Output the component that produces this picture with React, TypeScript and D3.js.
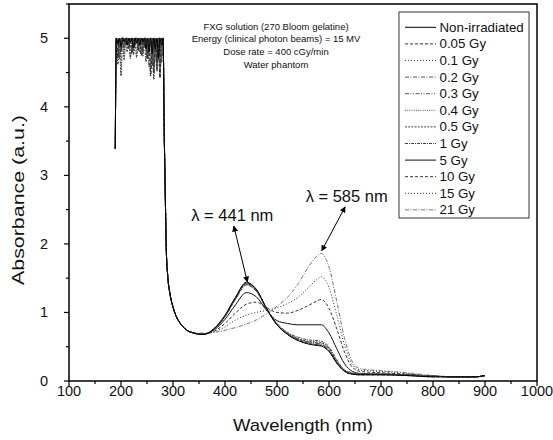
import React from 'react';
import * as d3 from 'd3';

const W = 553;
const H = 440;
const margin = { top: 4, right: 16, bottom: 59, left: 69 };
const FONT = 'Liberation Sans, Arial, sans-serif';

const seriesNames = ['Non-irradiated', '0.05 Gy', '0.1 Gy', '0.2 Gy', '0.3 Gy', '0.4 Gy', '0.5 Gy', '1 Gy', '5 Gy', '10 Gy', '15 Gy', '21 Gy'];
const seriesDash = ['', '3,2', '1,2', '4,1.5,1,1.5', '4,1.5,1,1.5,1,1.5', '1,1.2', '2,1.2', '3,1,1,1', '', '3,2', '1,2', '4,1.5,1,1.5'];
const seriesColor = ['#000', '#333', '#444', '#555', '#555', '#555', '#444', '#444', '#111', '#333', '#333', '#777'];

// UV part, shared by every spectrum (saturated detector)
const riseNm = [189];
const riseAbs = [3.39];
const satNm = [191, 194, 197, 200, 203, 206, 209, 212, 215, 218, 221, 224, 227, 230, 233, 236, 239, 242, 245, 248, 251, 254, 257, 260, 263, 266, 269, 272, 275, 278, 281];
const satA = [5.0, 4.72, 5.0, 4.80, 5.0, 5.0, 4.90, 5.0, 4.85, 5.0, 4.78, 5.0, 4.90, 5.0, 4.82, 5.0, 4.75, 5.0, 4.88, 5.0, 4.70, 5.0, 4.45, 5.0, 4.50, 5.0, 4.60, 5.0, 4.42, 5.0, 5.0];
const satB = [5.0, 4.62, 5.0, 4.45, 5.0, 4.68, 5.0, 4.80, 5.0, 4.70, 5.0, 4.76, 5.0, 4.72, 5.0, 4.80, 5.0, 4.74, 5.0, 4.66, 5.0, 4.58, 4.60, 5.0, 4.40, 5.0, 4.55, 5.0, 4.45, 5.0, 5.0];
const satC = [5.0, 4.92, 5.0, 4.88, 5.0, 4.95, 5.0, 4.90, 5.0, 4.94, 5.0, 4.86, 5.0, 4.93, 5.0, 4.90, 5.0, 4.95, 5.0, 4.85, 5.0, 4.80, 5.0, 4.78, 5.0, 4.84, 5.0, 4.70, 5.0, 4.90, 5.0];
const satD = [5.0, 5.0, 4.70, 5.0, 5.0, 4.85, 5.0, 5.0, 4.90, 5.0, 5.0, 4.82, 5.0, 5.0, 4.88, 5.0, 5.0, 4.80, 5.0, 5.0, 4.76, 5.0, 5.0, 4.60, 5.0, 5.0, 4.52, 5.0, 5.0, 4.65, 5.0];
const satPatterns = [satA, satB, satC, satD];
const satPick = [2, 0, 1, 3, 0, 1, 2, 3, 2, 0, 1, 3];
const dropNm = [283, 285, 287, 290, 294, 300, 307, 315, 325, 340];
const dropAbs = [3.7, 2.8, 1.95, 1.52, 1.28, 1.08, 0.93, 0.83, 0.75, 0.70];

// visible part, one list per dose
const visNm = [350, 360, 380, 400, 420, 441, 460, 480, 500, 520, 540, 560, 575, 585, 600, 615, 630, 645, 660, 700, 750, 800, 850, 880, 900];
const absNonIrr = [0.68, 0.68, 0.77, 0.96, 1.22, 1.44, 1.34, 1.06, 0.82, 0.68, 0.59, 0.54, 0.52, 0.51, 0.43, 0.26, 0.14, 0.10, 0.09, 0.09, 0.08, 0.06, 0.06, 0.06, 0.08];
const abs005 = [0.68, 0.68, 0.77, 0.95, 1.21, 1.43, 1.34, 1.06, 0.82, 0.68, 0.60, 0.55, 0.53, 0.52, 0.44, 0.26, 0.14, 0.10, 0.09, 0.09, 0.08, 0.06, 0.06, 0.06, 0.08];
const abs01 = [0.68, 0.68, 0.77, 0.95, 1.21, 1.43, 1.33, 1.06, 0.82, 0.69, 0.60, 0.55, 0.53, 0.52, 0.44, 0.27, 0.14, 0.10, 0.10, 0.09, 0.08, 0.07, 0.06, 0.06, 0.08];
const abs02 = [0.69, 0.69, 0.77, 0.95, 1.21, 1.42, 1.33, 1.05, 0.82, 0.69, 0.61, 0.56, 0.54, 0.53, 0.45, 0.27, 0.15, 0.11, 0.10, 0.10, 0.08, 0.07, 0.06, 0.06, 0.08];
const abs03 = [0.69, 0.69, 0.77, 0.95, 1.20, 1.42, 1.33, 1.05, 0.82, 0.69, 0.61, 0.57, 0.55, 0.54, 0.46, 0.28, 0.15, 0.11, 0.10, 0.10, 0.09, 0.07, 0.06, 0.06, 0.08];
const abs04 = [0.69, 0.69, 0.76, 0.94, 1.20, 1.41, 1.32, 1.05, 0.83, 0.70, 0.62, 0.57, 0.56, 0.55, 0.47, 0.28, 0.15, 0.11, 0.10, 0.10, 0.09, 0.07, 0.06, 0.06, 0.08];
const abs05 = [0.69, 0.69, 0.76, 0.94, 1.19, 1.41, 1.32, 1.05, 0.83, 0.70, 0.62, 0.58, 0.57, 0.56, 0.48, 0.29, 0.16, 0.11, 0.10, 0.10, 0.09, 0.07, 0.06, 0.06, 0.08];
const abs1 = [0.69, 0.69, 0.76, 0.94, 1.19, 1.40, 1.31, 1.05, 0.84, 0.71, 0.64, 0.60, 0.59, 0.58, 0.50, 0.31, 0.16, 0.12, 0.10, 0.10, 0.09, 0.07, 0.06, 0.06, 0.08];
const abs5 = [0.69, 0.69, 0.75, 0.90, 1.11, 1.29, 1.23, 1.03, 0.88, 0.84, 0.82, 0.82, 0.82, 0.82, 0.70, 0.47, 0.25, 0.14, 0.11, 0.10, 0.09, 0.07, 0.06, 0.06, 0.08];
const abs10 = [0.69, 0.69, 0.73, 0.84, 0.99, 1.12, 1.15, 1.07, 1.00, 0.99, 1.03, 1.10, 1.16, 1.19, 1.06, 0.76, 0.42, 0.20, 0.14, 0.12, 0.10, 0.07, 0.06, 0.06, 0.08];
const abs15 = [0.69, 0.69, 0.72, 0.79, 0.89, 0.96, 1.00, 1.03, 1.07, 1.13, 1.22, 1.36, 1.47, 1.52, 1.36, 0.96, 0.52, 0.24, 0.16, 0.14, 0.11, 0.07, 0.06, 0.06, 0.08];
const abs21 = [0.70, 0.70, 0.71, 0.74, 0.78, 0.83, 0.89, 0.98, 1.09, 1.22, 1.41, 1.66, 1.81, 1.86, 1.66, 1.16, 0.62, 0.28, 0.18, 0.15, 0.12, 0.08, 0.06, 0.06, 0.08];
const visAbs = [absNonIrr, abs005, abs01, abs02, abs03, abs04, abs05, abs1, abs5, abs10, abs15, abs21];

const xMajor = [100, 200, 300, 400, 500, 600, 700, 800, 900, 1000];
const xMinor = [150, 250, 350, 450, 550, 650, 750, 850, 950];
const yMajor = [0, 1, 2, 3, 4, 5];
const yMinor = [0.5, 1.5, 2.5, 3.5, 4.5, 5.5];

const infoLines = ['FXG solution (270 Bloom gelatine)', 'Energy (clinical photon beams) = 15 MV', 'Dose rate = 400 cGy/min', 'Water phantom'];

export default function App() {
  const x = d3.scaleLinear().domain([100, 1000]).range([margin.left, W - margin.right]);
  const y = d3.scaleLinear().domain([0, 5.5]).range([H - margin.bottom, margin.top]);

  const line = d3.line<number[]>()
    .x(d => x(d[0]))
    .y(d => y(d[1]))
    .curve(d3.curveMonotoneX);

  const series = seriesNames.map((name, i) => {
    const pts: number[][] = [
      ...riseNm.map((n, k) => [n, riseAbs[k]]),
      ...satNm.map((n, k) => [n, satPatterns[satPick[i]][k]]),
      ...dropNm.map((n, k) => [n, dropAbs[k]]),
      ...visNm.map((n, k) => [n, visAbs[i][k]]),
    ];
    return { name, pts, dash: seriesDash[i], color: seriesColor[i] };
  });

  const x0 = margin.left;
  const x1 = W - margin.right;
  const y0 = H - margin.bottom;
  const y1 = margin.top;

  const legX = 399;
  const legY = 12;
  const legW = 130;
  const legH = 206;
  const rowH = 16.6;

  return (
    <svg width={W} height={H} style={{ position: 'absolute', left: 0, top: 0, background: '#fff' }} fontFamily={FONT}>
      <defs>
        <marker id="ah" viewBox="0 0 10 10" refX="9" refY="5" markerWidth="7" markerHeight="6" markerUnits="userSpaceOnUse" orient="auto-start-reverse">
          <path d="M0,0 L10,5 L0,10 z" fill="#000" />
        </marker>
      </defs>

      {/* spectra */}
      <g fill="none">
        {series.slice().reverse().map(s => (
          <path key={s.name} d={line(s.pts) || ''} stroke={s.color} strokeWidth={1} strokeDasharray={s.dash || undefined} />
        ))}
      </g>

      {/* frame */}
      <rect x={x0} y={y1} width={x1 - x0} height={y0 - y1} fill="none" stroke="#000" strokeWidth={1.5} />

      {/* x axis */}
      {xMajor.map(v => (
        <g key={'xm' + v}>
          <line x1={x(v)} x2={x(v)} y1={y0} y2={y0 + 5} stroke="#000" strokeWidth={1.2} />
          <text x={x(v)} y={396} textAnchor="middle" fontSize={14.5} fill="#111">{v}</text>
        </g>
      ))}
      {xMinor.map(v => (
        <line key={'xn' + v} x1={x(v)} x2={x(v)} y1={y0} y2={y0 + 3} stroke="#000" strokeWidth={1.2} />
      ))}
      <text x={(x0 + x1) / 2} y={431} textAnchor="middle" fontSize={17} textLength={140} lengthAdjust="spacingAndGlyphs" fill="#111">Wavelength (nm)</text>

      {/* y axis */}
      {yMajor.map(v => (
        <g key={'ym' + v}>
          <line x1={x0 - 5} x2={x0} y1={y(v)} y2={y(v)} stroke="#000" strokeWidth={1.2} />
          <text x={48} y={y(v) + 5} textAnchor="end" fontSize={14.5} fill="#111">{v}</text>
        </g>
      ))}
      {yMinor.map(v => (
        <line key={'yn' + v} x1={x0 - 3} x2={x0} y1={y(v)} y2={y(v)} stroke="#000" strokeWidth={1.2} />
      ))}
      <text transform={`translate(24,${200}) rotate(-90)`} textAnchor="middle" fontSize={17} textLength={170} lengthAdjust="spacingAndGlyphs" fill="#111">Absorbance (a.u.)</text>

      {/* info */}
      {infoLines.map((t, i) => (
        <text key={t} x={276} y={29.5 + i * 12.9} textAnchor="middle" fontSize={9.5} fill="#111">{t}</text>
      ))}

      {/* peak annotations */}
      <line x1={x(417)} y1={y(2.26)} x2={x(443)} y2={y(1.445)} stroke="#000" strokeWidth={1} markerStart="url(#ah)" markerEnd="url(#ah)" />
      <text x={x(414)} y={y(2.34)} textAnchor="middle" fontSize={16.5} fill="#111">λ = 441 nm</text>
      <line x1={x(631)} y1={y(2.54)} x2={x(586)} y2={y(1.9)} stroke="#000" strokeWidth={1} markerStart="url(#ah)" markerEnd="url(#ah)" />
      <text x={x(634)} y={y(2.61)} textAnchor="middle" fontSize={16.5} fill="#111">λ = 585 nm</text>

      {/* legend */}
      <rect x={legX} y={legY} width={legW} height={legH} fill="#fff" stroke="#333" strokeWidth={1} />
      {series.map((s, i) => {
        const cy = legY + 15.3 + i * rowH;
        return (
          <g key={'lg' + s.name}>
            <line x1={legX + 6} x2={legX + 37} y1={cy} y2={cy} stroke={s.color} strokeWidth={1} strokeDasharray={s.dash || undefined} />
            <text x={legX + 40.5} y={cy + 4.5} fontSize={13.3} fill="#111">{s.name}</text>
          </g>
        );
      })}
    </svg>
  );
}
